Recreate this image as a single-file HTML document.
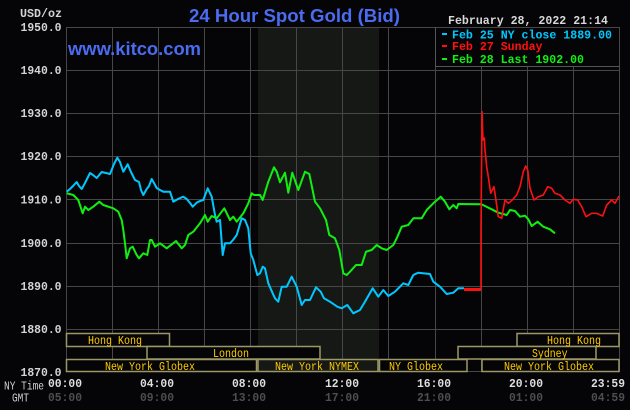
<!DOCTYPE html>
<html><head><meta charset="utf-8"><style>
html,body{margin:0;padding:0;background:#050508;}
svg{display:block;}
.m{font-family:"Liberation Mono",monospace;font-weight:bold;}
.s{font-family:"Liberation Mono",monospace;}
.t{font-family:"Liberation Sans",sans-serif;font-weight:bold;fill:#4b6cf0;}
.ses{font-family:"Liberation Mono",monospace;font-size:12px;fill:#ffcc00;}
</style></head><body>
<svg width="630" height="410" viewBox="0 0 630 410" xmlns="http://www.w3.org/2000/svg">
<rect x="0" y="0" width="630" height="410" fill="#050508"/>
<!-- shaded NYMEX region -->
<rect x="258" y="27" width="121" height="345" fill="#151815"/>
<!-- grid -->
<g fill="#474747">
<rect x="66" y="27" width="553" height="1"/>
<rect x="66" y="70" width="553" height="1"/>
<rect x="66" y="113" width="553" height="1"/>
<rect x="66" y="156" width="553" height="1"/>
<rect x="66" y="199" width="553" height="1"/>
<rect x="66" y="243" width="553" height="1"/>
<rect x="66" y="286" width="553" height="1"/>
<rect x="66" y="329" width="553" height="1"/>
<rect x="66" y="371" width="554" height="1"/>
<rect x="66" y="27" width="1" height="345"/>
<rect x="112" y="27" width="1" height="345"/>
<rect x="158" y="27" width="1" height="345"/>
<rect x="204" y="27" width="1" height="345"/>
<rect x="250" y="27" width="1" height="345"/>
<rect x="296" y="27" width="1" height="345"/>
<rect x="342" y="27" width="1" height="345"/>
<rect x="388" y="27" width="1" height="345"/>
<rect x="435" y="27" width="1" height="345"/>
<rect x="481" y="27" width="1" height="345"/>
<rect x="527" y="27" width="1" height="345"/>
<rect x="573" y="27" width="1" height="345"/>
<rect x="619" y="27" width="1" height="345"/>
</g>
<!-- legend box -->
<rect x="436" y="28" width="183" height="38" fill="#050508"/>
<rect x="435" y="27" width="1" height="40" fill="#555"/>
<rect x="435" y="66" width="185" height="1" fill="#555"/>

<!-- title -->
<text class="t" x="189" y="22" font-size="18" textLength="211" lengthAdjust="spacingAndGlyphs">24 Hour Spot Gold (Bid)</text>
<text class="t" x="68" y="55" font-size="18" textLength="133" lengthAdjust="spacingAndGlyphs">www.kitco.com</text>

<!-- date -->
<text class="m" x="448" y="24" font-size="12" fill="#d8d8d8" textLength="160" lengthAdjust="spacingAndGlyphs">February 28, 2022 21:14</text>

<!-- legend -->
<rect x="442" y="33" width="5" height="2" fill="#00c8ff"/>
<text class="m" x="452" y="38.5" font-size="12" fill="#00c8ff" textLength="160" lengthAdjust="spacingAndGlyphs">Feb 25 NY close 1889.00</text>
<rect x="442" y="45" width="5" height="2" fill="#ff1010"/>
<text class="m" x="452" y="50" font-size="12" fill="#ff1010" textLength="90.5" lengthAdjust="spacingAndGlyphs">Feb 27 Sunday</text>
<rect x="442" y="58" width="5" height="2" fill="#10f010"/>
<text class="m" x="452" y="63" font-size="12" fill="#10f010" textLength="132" lengthAdjust="spacingAndGlyphs">Feb 28 Last 1902.00</text>

<!-- y axis labels -->
<g class="m" font-size="11.5" fill="#d4d4d4" text-anchor="end">
<text x="20" y="17" text-anchor="start" textLength="42" lengthAdjust="spacingAndGlyphs">USD/oz</text>
<text x="61.5" y="31" textLength="41" lengthAdjust="spacingAndGlyphs">1950.0</text>
<text x="61.5" y="74" textLength="41" lengthAdjust="spacingAndGlyphs">1940.0</text>
<text x="61.5" y="117" textLength="41" lengthAdjust="spacingAndGlyphs">1930.0</text>
<text x="61.5" y="160" textLength="41" lengthAdjust="spacingAndGlyphs">1920.0</text>
<text x="61.5" y="203.5" textLength="41" lengthAdjust="spacingAndGlyphs">1910.0</text>
<text x="61.5" y="247" textLength="41" lengthAdjust="spacingAndGlyphs">1900.0</text>
<text x="61.5" y="290" textLength="41" lengthAdjust="spacingAndGlyphs">1890.0</text>
<text x="61.5" y="333" textLength="41" lengthAdjust="spacingAndGlyphs">1880.0</text>
<text x="61.5" y="376" textLength="41" lengthAdjust="spacingAndGlyphs">1870.0</text>
</g>

<!-- session boxes -->
<g fill="#050508" stroke="#9c9866" stroke-width="1.5">
<rect x="66.5" y="333.5" width="103" height="13"/>
<rect x="517" y="333.5" width="102" height="13"/>
<rect x="147" y="346.5" width="173" height="12.5"/>
<rect x="458" y="346.5" width="138" height="12.5"/>
<rect x="66.5" y="359.5" width="190" height="12"/>
<rect x="258" y="359.5" width="120" height="12" fill="#151815"/>
<rect x="379.5" y="359.5" width="87.5" height="12"/>
<rect x="482" y="359.5" width="137" height="12"/>
</g>
<g class="ses">
<text x="88" y="344" textLength="54" lengthAdjust="spacingAndGlyphs">Hong Kong</text>
<text x="547" y="344" textLength="54" lengthAdjust="spacingAndGlyphs">Hong Kong</text>
<text x="213" y="357" textLength="36" lengthAdjust="spacingAndGlyphs">London</text>
<text x="532" y="357" textLength="35.5" lengthAdjust="spacingAndGlyphs">Sydney</text>
<text x="105" y="370" textLength="90" lengthAdjust="spacingAndGlyphs">New York Globex</text>
<text x="275" y="370" textLength="84" lengthAdjust="spacingAndGlyphs">New York NYMEX</text>
<text x="389" y="370" textLength="54" lengthAdjust="spacingAndGlyphs">NY Globex</text>
<text x="504" y="370" textLength="90" lengthAdjust="spacingAndGlyphs">New York Globex</text>
</g>

<!-- bottom labels -->
<text class="s" x="4" y="389.5" font-size="12" fill="#d0d0d0" textLength="40" lengthAdjust="spacingAndGlyphs">NY Time</text>
<text class="s" x="12" y="401.5" font-size="12" fill="#d0d0d0" textLength="17" lengthAdjust="spacingAndGlyphs">GMT</text>
<g class="m" font-size="11.5" fill="#dedede">
<text x="48" y="387" textLength="34" lengthAdjust="spacingAndGlyphs">00:00</text>
<text x="140" y="387" textLength="34" lengthAdjust="spacingAndGlyphs">04:00</text>
<text x="232" y="387" textLength="34" lengthAdjust="spacingAndGlyphs">08:00</text>
<text x="325" y="387" textLength="34" lengthAdjust="spacingAndGlyphs">12:00</text>
<text x="417" y="387" textLength="34" lengthAdjust="spacingAndGlyphs">16:00</text>
<text x="509" y="387" textLength="34" lengthAdjust="spacingAndGlyphs">20:00</text>
<text x="591" y="387" textLength="34" lengthAdjust="spacingAndGlyphs">23:59</text>
</g>
<g class="m" font-size="11.5" fill="#4e4e4e">
<text x="48" y="401" textLength="34" lengthAdjust="spacingAndGlyphs">05:00</text>
<text x="140" y="401" textLength="34" lengthAdjust="spacingAndGlyphs">09:00</text>
<text x="232" y="401" textLength="34" lengthAdjust="spacingAndGlyphs">13:00</text>
<text x="325" y="401" textLength="34" lengthAdjust="spacingAndGlyphs">17:00</text>
<text x="417" y="401" textLength="34" lengthAdjust="spacingAndGlyphs">21:00</text>
<text x="509" y="401" textLength="34" lengthAdjust="spacingAndGlyphs">01:00</text>
<text x="591" y="401" textLength="34" lengthAdjust="spacingAndGlyphs">04:59</text>
</g>

<!-- cyan series -->
<polyline fill="none" stroke="#00c8ff" stroke-width="2" stroke-linejoin="round" points="66.7,191.7 70,189 73,186 76.7,182 79,186 81.7,189 85,183 90,173 93,175 96.7,178 101.7,172 106,173 110,174 114,164 117.3,157.7 120,162 123.3,171.7 127.7,164.3 131,172 135,180 139,182 141,190 143.3,195 146.7,189 149,186 151.7,179 154,183 156.7,188 160,190 163.3,191.7 170,191.7 173.3,201.7 178,199 183.3,196.7 186.7,199 190,203 192.7,206.7 196.7,202.7 200,201 203.3,200 207.7,188.3 211.7,196.7 215,215 216.7,221.7 220,220 222.7,255 225,243.3 230,243.3 233,240 236.7,235 241.7,218.3 245,220 248.3,228.3 250.7,253.3 253.3,260 257.3,275 260,273.3 262.7,266.7 265,268.3 268.3,283.3 272.7,293.3 275,298.3 278.3,301.7 281.7,286.7 286.7,286.7 291.7,276.7 296.7,286.7 301.7,305 305,300 310,300 316,287.3 320.7,291.7 324,298.3 330,301.7 337.3,306.7 341.7,308.3 347.3,305 353.3,313.3 360,310 365,301.7 372.7,288.3 378.3,296.7 383.3,290 388.3,296 395,291.7 403.3,283.3 408.3,285 413.3,275 418.3,272.7 430,274 433.3,281.7 440,286.7 446.7,294 453.3,292.7 458.3,288.3 464,288.3"/>
<!-- close marker -->
<rect x="464" y="288" width="17" height="3" fill="#ff1010"/>
<!-- green series -->
<polyline fill="none" stroke="#10f010" stroke-width="2" stroke-linejoin="round" points="66.7,193.3 73.3,195 78.3,200 82.7,213.3 85,206.7 88.3,210 93.3,206.7 99.3,201.7 103.3,205 108.3,206.7 113.3,208.3 118.3,211.7 121.7,220 123.3,230 125,243.3 126.7,258.3 130,248.3 132.7,246.7 136.7,255 139,258.3 143.3,253.3 147.3,255 150,240 151.7,240 155,246.7 160,243.3 166.7,248.3 176,241 181.7,248.3 185,245 188.3,235 193.3,231.7 200,223.3 205,215 207.7,221.7 211.7,216 216.7,218.3 224.3,208.3 230,220 233.3,216.7 236.7,221.7 243.3,213.3 245,210 248.3,203.3 251.7,193.3 254,195 260,195 262.7,200 268.3,181.7 274,167.3 276.7,171.7 280,182.3 285,172.7 288.3,192.7 292.3,172.7 298.3,190 305,171.7 309.3,174 315,201.7 320,208.3 326,220 329.3,235 335,238.3 339.3,250 343.3,273.3 346.7,275 350,271.7 356,265 361.7,265 366,251.7 371.7,250 376.7,245 381.7,248.3 386.7,250 393.3,245 396.7,238.3 401.7,226.7 408.3,225 413.3,218.3 421.7,218.3 426.7,210 433.3,203.3 440.7,196.7 445,201.7 449.3,209.3 453.3,205 456.7,208.3 458.3,204 481.3,204.3 485,206 491.7,209.3 498.3,212.7 506.7,215 510,210 515,211 520,216.7 525,215.7 528.3,219.3 531.7,226 537.7,221.7 543.3,226.7 550,229.3 555,233.3"/>
<!-- red series -->
<polyline fill="none" stroke="#ff1010" stroke-width="1.6" stroke-linejoin="round" points="481,289 481,230 482,111.7 483,140 484.3,138 485,150 486.7,166.7 488.3,176.7 490.7,193.3 492.3,190 494,186.7 495.7,198.3 498.3,216.7 501.7,218.3 505,200 508.3,203.3 512.3,200 516.7,195 520,186.7 523.3,171.7 525.7,166 527.7,170 530,188.3 534,200 538.3,196.7 543.3,195 547.7,186.7 551.7,188.3 555,193.3 560,195 565,200 570,203.3 573.3,199.3 577.7,200 581.7,206.7 586,216.7 591.7,213.3 596.7,213.3 602.7,216 606.7,205 611.7,200 615,203.3 619,196"/>
</svg>
</body></html>
